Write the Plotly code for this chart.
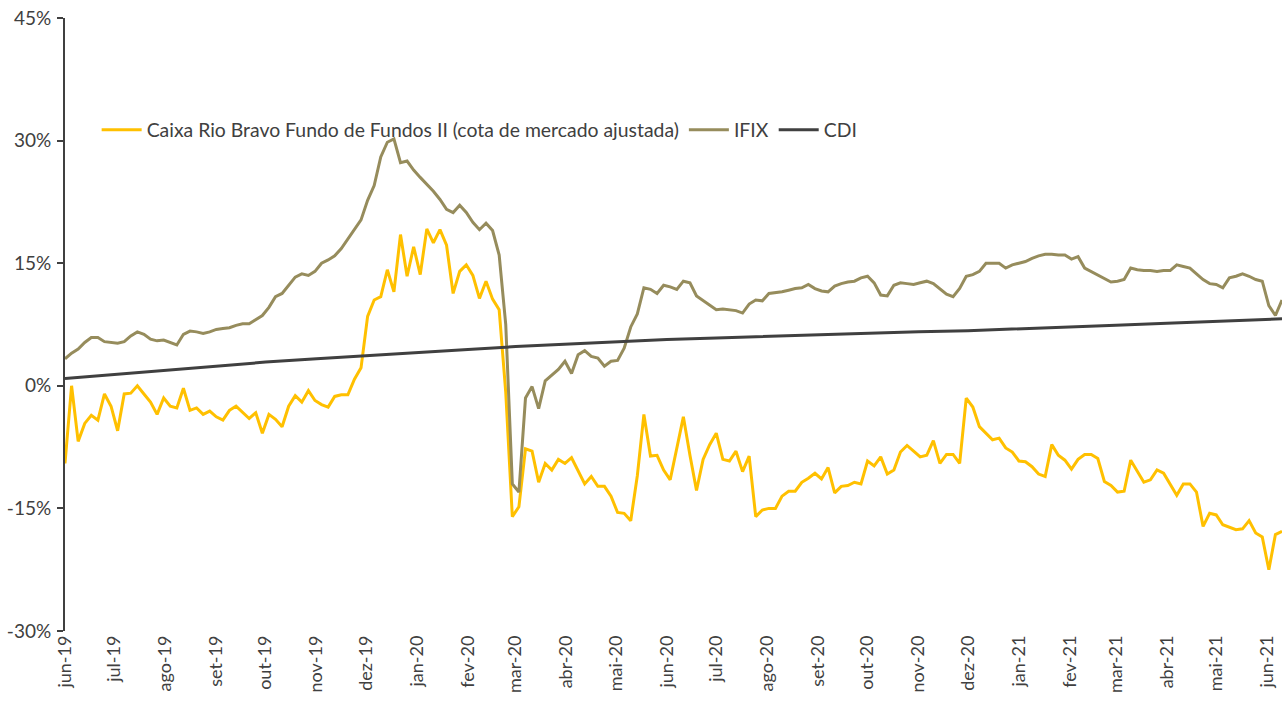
import pandas as pd
import plotly.graph_objects as go

# ---- data ----
start_date = "2019-06-01"
grid_dates = pd.date_range(start_date, periods=186, freq="4D")

caixa = [
    -9.5, 0.0, -6.8, -4.6, -3.6, -4.2, -1.0, -2.5, -5.5, -1.0,
    -0.9, 0.0, -1.0, -2.0, -3.5, -1.5, -2.5, -2.7, -0.3, -3.0,
    -2.7, -3.5, -3.1, -3.8, -4.2, -3.0, -2.5, -3.3, -4.0, -3.3,
    -5.8, -3.5, -4.1, -5.0, -2.5, -1.2, -2.0, -0.6, -1.8, -2.3,
    -2.6, -1.3, -1.1, -1.1, 0.8, 2.2, 8.5, 10.5, 10.9, 14.2,
    11.5, 18.5, 13.4, 17.0, 13.6, 19.2, 17.5, 19.1, 17.2, 11.3,
    14.0, 14.8, 13.5, 10.7, 12.8, 10.6, 9.3, -0.8, -16.0, -14.8,
    -7.7, -8.0, -11.8, -9.5, -10.3, -9.0, -9.5, -8.8, -10.5, -12.0,
    -11.1, -12.3, -12.3, -13.5, -15.5, -15.6, -16.5, -11.0, -3.5, -8.6,
    -8.5, -10.3, -11.5, -7.8, -3.8, -8.5, -12.8, -9.0, -7.2, -5.8,
    -9.0, -9.2, -8.0, -10.5, -8.6, -16.0, -15.2, -15.0, -15.0, -13.5,
    -12.9, -12.9, -11.8, -11.3, -10.7, -11.4, -10.0, -13.1, -12.3, -12.2,
    -11.8, -12.0, -9.2, -9.8, -8.7, -10.8, -10.3, -8.1, -7.3, -8.0,
    -8.7, -8.5, -6.7, -9.5, -8.4, -8.4, -9.5, -1.5, -2.6, -5.0,
    -5.8, -6.6, -6.4, -7.6, -8.1, -9.2, -9.3, -9.9, -10.8, -11.1,
    -7.2, -8.5, -9.1, -10.2, -9.0, -8.4, -8.4, -8.9, -11.7, -12.2,
    -13.0, -12.9, -9.1, -10.5, -11.8, -11.5, -10.3, -10.7, -12.0, -13.4,
    -12.0, -12.0, -13.0, -17.2, -15.6, -15.8, -17.0, -17.3, -17.6, -17.5,
    -16.5, -18.0, -18.5, -22.5, -18.2, -17.8,
]

ifix = [
    3.3, 4.0, 4.5, 5.3, 5.9, 5.9, 5.4, 5.3, 5.2, 5.4,
    6.1, 6.6, 6.3, 5.7, 5.5, 5.6, 5.3, 5.0, 6.3, 6.7,
    6.6, 6.4, 6.6, 6.9, 7.0, 7.1, 7.4, 7.6, 7.6, 8.1,
    8.6, 9.6, 10.9, 11.3, 12.3, 13.3, 13.7, 13.5, 14.0, 15.0,
    15.4, 15.9, 16.8, 18.0, 19.2, 20.3, 22.7, 24.5, 28.0, 29.8,
    30.2, 27.3, 27.5, 26.4, 25.5, 24.7, 23.8, 22.8, 21.6, 21.2,
    22.1, 21.2, 20.0, 19.1, 19.9, 19.0, 16.0, 7.5, -12.0, -13.0,
    -1.5, -0.1, -2.8, 0.6, 1.3, 2.0, 3.0, 1.5, 3.8, 4.3,
    3.6, 3.4, 2.4, 3.0, 3.1, 4.6, 7.2, 8.8, 12.0, 11.8,
    11.3, 12.3, 12.1, 11.8, 12.8, 12.6, 11.0, 10.4, 9.8, 9.3,
    9.4, 9.3, 9.2, 8.9, 10.0, 10.5, 10.4, 11.3, 11.4, 11.5,
    11.7, 11.9, 12.0, 12.4, 11.9, 11.6, 11.5, 12.2, 12.5, 12.7,
    12.8, 13.2, 13.4, 12.6, 11.1, 11.0, 12.3, 12.6, 12.5, 12.4,
    12.6, 12.8, 12.5, 11.9, 11.2, 10.9, 11.9, 13.4, 13.6, 14.0,
    15.0, 15.0, 15.0, 14.4, 14.8, 15.0, 15.2, 15.6, 15.9, 16.1,
    16.1, 16.0, 16.0, 15.5, 15.8, 14.4, 14.0, 13.6, 13.2, 12.7,
    12.8, 13.0, 14.4, 14.2, 14.1, 14.1, 14.0, 14.1, 14.1, 14.8,
    14.6, 14.4, 13.7, 13.0, 12.5, 12.4, 12.0, 13.2, 13.4, 13.7,
    13.4, 13.0, 12.8, 9.8, 8.6, 10.5,
]

cdi_dates = list(pd.date_range(start_date, periods=25, freq="MS")) + [grid_dates[-1]]
cdi = [0.9, 1.4, 1.9, 2.4, 2.9, 3.3, 3.7, 4.1, 4.45, 4.8, 5.1, 5.4, 5.65,
       5.85, 6.05, 6.25, 6.45, 6.6, 6.75, 6.95, 7.15, 7.4, 7.65, 7.9, 8.15, 8.2]

month_labels = ["jun-19", "jul-19", "ago-19", "set-19", "out-19", "nov-19", "dez-19",
                "jan-20", "fev-20", "mar-20", "abr-20", "mai-20", "jun-20", "jul-20",
                "ago-20", "set-20", "out-20", "nov-20", "dez-20", "jan-21", "fev-21",
                "mar-21", "abr-21", "mai-21", "jun-21"]
month_ticks = list(pd.date_range(start_date, periods=25, freq="MS"))

y_ticks = [-30, -15, 0, 15, 30, 45]
y_labels = ["-30%", "-15%", "0%", "15%", "30%", "45%"]

# ---- figure ----
FONT = "Lato, 'Open Sans', sans-serif"
TXT = "#404040"

fig = go.Figure()
fig.add_trace(go.Scatter(x=grid_dates, y=caixa, mode="lines",
                         name="Caixa Rio Bravo Fundo de Fundos II (cota de mercado ajustada)",
                         line=dict(color="#FFC000", width=3)))
fig.add_trace(go.Scatter(x=grid_dates, y=ifix, mode="lines", name="IFIX",
                         line=dict(color="#968C5C", width=3)))
fig.add_trace(go.Scatter(x=cdi_dates, y=cdi, mode="lines", name="CDI",
                         line=dict(color="#404040", width=3)))

fig.update_layout(
    width=1283, height=704,
    margin=dict(l=65, r=1, t=18, b=73, autoexpand=False),
    paper_bgcolor="white", plot_bgcolor="white",
    font=dict(family=FONT, size=19, color=TXT),
    showlegend=True,
    legend=dict(orientation="h", x=0.026, y=0.817, xanchor="left", yanchor="middle",
                bgcolor="rgba(0,0,0,0)", font=dict(size=19.4, color=TXT),
                itemwidth=40, tracegroupgap=0),
    xaxis=dict(type="date", range=[grid_dates[0], grid_dates[-1]], automargin=False,
               tickvals=month_ticks, ticktext=month_labels, tickangle=-90,
               showgrid=False, zeroline=False, showline=False, ticks="",
               ticklabeloverflow="allow",
               tickfont=dict(size=18, color=TXT)),
    yaxis=dict(range=[-30, 45], tickvals=y_ticks, ticktext=y_labels, automargin=False,
               showgrid=False, zeroline=False, showline=True, linecolor="#404040",
               linewidth=2, ticks="outside", ticklen=6, tickwidth=2, tickcolor="#404040",
               ticklabelstandoff=2, ticklabeloverflow="allow",
               tickfont=dict(size=19, color=TXT)),
)

# remove the page's default 8px body margin so the figure fills the window exactly
fig.write_html("out.html", config={"displayModeBar": False},
               post_script="document.body.style.margin='0px';")
